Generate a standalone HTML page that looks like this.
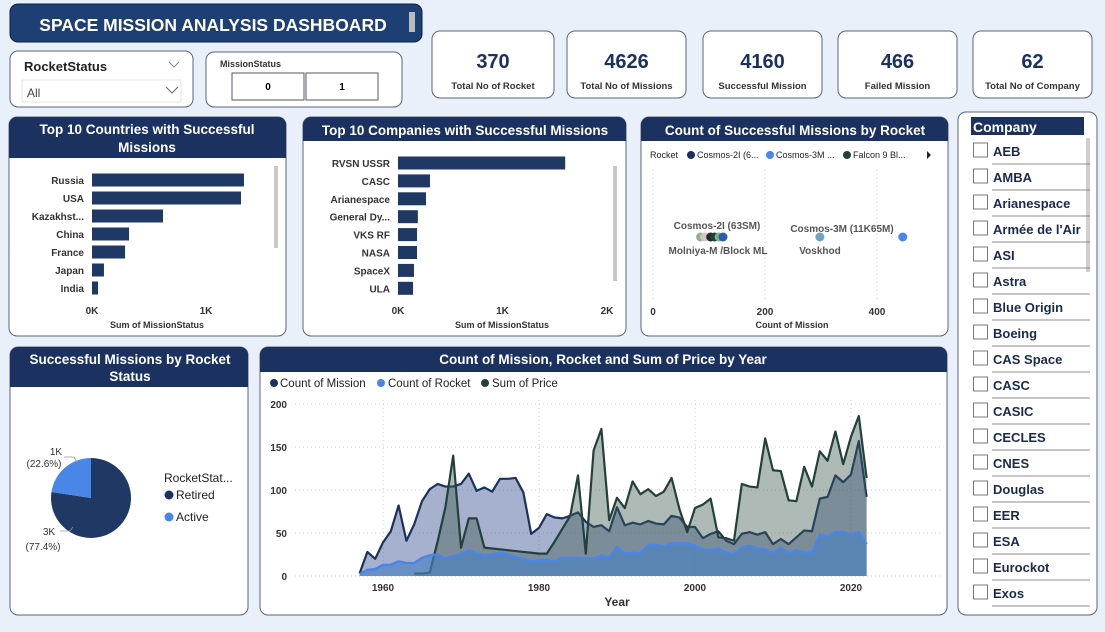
<!DOCTYPE html>
<html><head><meta charset="utf-8"><style>
body{margin:0;background:#e9f0f9;}
svg{display:block;font-family:"Liberation Sans",sans-serif;}
.card{fill:#fff;stroke:#5b6478;stroke-width:1;}
.hdr{fill:#1b3260;}
.ht{fill:#fff;font-weight:bold;font-size:13.5px;text-anchor:middle;}
.ax{fill:#333;font-size:10px;font-weight:bold;}
.cat{fill:#333;font-size:10px;font-weight:bold;text-anchor:end;}
.grid{stroke:#ccc;stroke-dasharray:1 3;}
</style></head><body>
<svg id="s" width="1105" height="632" viewBox="0 0 1105 632">
<rect width="1105" height="632" fill="#e9f0f9"/>
<g>
<rect x="10" y="4" width="412" height="38" rx="8" fill="#1e3f73" stroke="#0e1f3e"/>
<text x="213" y="31" fill="#fff" font-size="17.5" font-weight="bold" text-anchor="middle">SPACE MISSION ANALYSIS DASHBOARD</text>
<rect x="409" y="12" width="6" height="20" fill="#bbb"/>
</g>
<g>
<rect x="10" y="51" width="183" height="56" rx="8" class="card"/>
<text x="24" y="71" font-size="13" font-weight="bold" fill="#222">RocketStatus</text>
<path d="M169 62l5 5 5-5" fill="none" stroke="#888"/>
<rect x="22" y="80" width="159" height="22" fill="#fff" stroke="#e4e4e4"/>
<text x="27" y="97" font-size="12" fill="#444">All</text>
<path d="M166 87l6 6 6-6" fill="none" stroke="#666"/>
</g>
<g>
<rect x="206" y="52" width="196" height="55" rx="8" class="card"/>
<text x="220" y="67" font-size="9" font-weight="bold" fill="#333">MissionStatus</text>
<rect x="232" y="73" width="72" height="27" fill="#fff" stroke="#556"/>
<rect x="306" y="73" width="72" height="27" fill="#fff" stroke="#556"/>
<text x="268" y="90" font-size="10" font-weight="bold" text-anchor="middle">0</text>
<text x="342" y="90" font-size="10" font-weight="bold" text-anchor="middle">1</text>
</g>
<g id="kpis"></g>
<g>
<rect x="9" y="117" width="277" height="219" rx="8" class="card"/>
<path d="M9 158V125a8 8 0 0 1 8-8h261a8 8 0 0 1 8 8v33z" class="hdr"/>
<text x="147" y="134" class="ht">Top 10 Countries with Successful</text>
<text x="147" y="152" class="ht">Missions</text>
<rect x="274" y="166" width="4" height="82" fill="#c8c8c8"/>
<text x="157" y="328" font-size="9" font-weight="bold" fill="#333" text-anchor="middle">Sum of MissionStatus</text>
<g id="cbars"></g>
</g>
<g>
<rect x="303" y="117" width="323" height="219" rx="8" class="card"/>
<path d="M303 141V125a8 8 0 0 1 8-8h307a8 8 0 0 1 8 8v16z" class="hdr"/>
<text x="465" y="135" class="ht">Top 10 Companies with Successful Missions</text>
<rect x="613" y="166" width="4" height="115" fill="#c8c8c8"/>
<text x="502" y="328" font-size="9" font-weight="bold" fill="#333" text-anchor="middle">Sum of MissionStatus</text>
<g id="mbars"></g>
</g>
<g>
<rect x="641" y="117" width="307" height="219" rx="8" class="card"/>
<path d="M641 141V125a8 8 0 0 1 8-8h291a8 8 0 0 1 8 8v16z" class="hdr"/>
<text x="795" y="135" class="ht">Count of Successful Missions by Rocket</text>
<g font-size="9" fill="#222">
<text x="650" y="158">Rocket</text>
<circle cx="691" cy="155" r="4" fill="#1b3260"/><text x="697" y="158">Cosmos-2I (6...</text>
<circle cx="770" cy="155" r="4" fill="#4a86e8"/><text x="776" y="158">Cosmos-3M ...</text>
<circle cx="847" cy="155" r="4" fill="#24403a"/><text x="853" y="158">Falcon 9 Bl...</text>
<path d="M927 151l4 4-4 4z" fill="#222"/>
</g>
<text x="792" y="328" font-size="9" font-weight="bold" fill="#333" text-anchor="middle">Count of Mission</text>
<g id="scat"></g>
</g>
<g>
<rect x="10" y="347" width="238" height="268" rx="8" class="card"/>
<path d="M10 387V355a8 8 0 0 1 8-8h222a8 8 0 0 1 8 8v32z" class="hdr"/>
<text x="130" y="364" class="ht">Successful Missions by Rocket</text>
<text x="130" y="381" class="ht">Status</text>
<g id="pie"></g>
<text x="164" y="482" font-size="12" fill="#222">RocketStat...</text>
<circle cx="169" cy="495" r="4.5" fill="#1b3260"/><text x="176" y="499" font-size="12" fill="#222">Retired</text>
<circle cx="169" cy="517" r="4.5" fill="#4a86e8"/><text x="176" y="521" font-size="12" fill="#222">Active</text>
</g>
<g>
<rect x="260" y="347" width="687" height="268" rx="8" class="card"/>
<path d="M260 372V355a8 8 0 0 1 8-8h671a8 8 0 0 1 8 8v17z" class="hdr"/>
<text x="603" y="364" class="ht">Count of Mission, Rocket and Sum of Price by Year</text>
<g font-size="11.5" fill="#222">
<circle cx="274" cy="383" r="4" fill="#1b3260"/><text x="280" y="387">Count of Mission</text>
<circle cx="381" cy="383" r="4" fill="#4a86e8"/><text x="388" y="387">Count of Rocket</text>
<circle cx="485" cy="383" r="4" fill="#24403a"/><text x="492" y="387">Sum of Price</text>
</g>
<text x="617" y="606" font-size="12" font-weight="bold" fill="#333" text-anchor="middle">Year</text>
<g id="area"></g>
</g>
<g>
<rect x="958" y="112" width="139" height="503" rx="8" class="card"/>
<rect x="971" y="117" width="113" height="18" fill="#1b3260"/>
<text x="973" y="132" fill="#fff" font-size="14" font-weight="bold">Company</text>
<rect x="1086" y="138" width="4" height="134" fill="#cfcfcf"/>
<g id="comp"></g>
</g>
</svg>
<script>
const NS="http://www.w3.org/2000/svg";
function mk(p,t,a,txt){const e=document.createElementNS(NS,t);for(const k in a)e.setAttribute(k,a[k]);if(txt!=null)e.textContent=txt;p.appendChild(e);return e;}
const kpiValues=["370","4626","4160","466","62"];
const kpiLabels=["Total No of Rocket","Total No of Missions","Successful Mission","Failed Mission","Total No of Company"];
const kpiX=[432,567,703,838,973],kpiW=[122,119,119,119,119];
const kg=document.getElementById('kpis');
kpiValues.forEach((v,i)=>{const g=mk(kg,'g',{});


mk(g,'rect',{x:kpiX[i],y:31,width:kpiW[i],height:67,rx:8,class:'card'});
mk(g,'text',{x:kpiX[i]+kpiW[i]/2,y:68,'font-size':20,'font-weight':'bold',fill:'#1b3260','text-anchor':'middle'},v);
mk(g,'text',{x:kpiX[i]+kpiW[i]/2,y:89,'font-size':9.5,'font-weight':'bold',fill:'#333','text-anchor':'middle'},kpiLabels[i]);});
const countries=["Russia","USA","Kazakhst...","China","France","Japan","India"];
const countryVals=[1333,1307,623,325,290,105,53];
const countryTicks=[0,1000];const countryTickLabels=["0K","1K"];
function hbar(gid,cats,vals,x0,scale,y0,step,ticks,tl,labX,tickY,name){
 const g=document.getElementById(gid);const sx=v=>x0+v*scale;
 cats.forEach((c,i)=>{const y=y0+i*step;
  mk(g,'text',{x:labX,y:y+4,class:'cat'},c);
  const r=mk(g,'rect',{x:x0,y:y-6.5,width:sx(vals[i])-x0,height:13,fill:'#1f3864'});
  
  });
 ticks.forEach((t,i)=>mk(g,'text',{x:sx(t),y:tickY,class:'ax','font-size':9,'text-anchor':'middle'},tl[i]));
}
hbar('cbars',countries,countryVals,92,0.114,180,18,countryTicks,countryTickLabels,84,314,'country-bar');
const companies=["RVSN USSR","CASC","Arianespace","General Dy...","VKS RF","NASA","SpaceX","ULA"];
const companyVals=[1600,306,268,190,182,182,153,144];
const compTicks=[0,1000,2000];const compTickLabels=["0K","1K","2K"];
hbar('mbars',companies,companyVals,398,0.1045,163,17.9,compTicks,compTickLabels,390,314,'company-bar');
const rockets=["Molniya-M /Block ML","m2","m3","m4","m5","Cosmos-2I (63SM)","Voskhod","Cosmos-3M (11K65M)"];
const rocketCounts=[85,92,103,110,118,125,298,446];
const rocketColors=["#8fae98","#d7c3c3","#1f2d2a","#24403a","#7fae8e","#2b5cb0","#6fa3c0","#4a86e8"];
const sg=document.getElementById('scat');const sxs=v=>653+v*0.56;
[0,200,400].forEach(t=>{mk(sg,'line',{x1:sxs(t),x2:sxs(t),y1:170,y2:302,class:'grid'});
 mk(sg,'text',{x:sxs(t),y:315,class:'ax','font-size':9.5,'text-anchor':'middle'},t);});
rockets.forEach((r,i)=>{const c=mk(sg,'circle',{cx:sxs(rocketCounts[i]),cy:237,r:4.5,fill:rocketColors[i]});
 
 });
mk(sg,'text',{x:717,y:229,'font-size':10,'font-weight':'bold',fill:'#555','text-anchor':'middle'},"Cosmos-2I (63SM)");
mk(sg,'text',{x:718,y:254,'font-size':10,'font-weight':'bold',fill:'#555','text-anchor':'middle'},"Molniya-M /Block ML");
mk(sg,'text',{x:842,y:232,'font-size':10,'font-weight':'bold',fill:'#555','text-anchor':'middle'},"Cosmos-3M (11K65M)");
mk(sg,'text',{x:820,y:254,'font-size':10,'font-weight':'bold',fill:'#555','text-anchor':'middle'},"Voskhod");
const pieCats=["Retired","Active"];const pieVals=[77.4,22.6];const pieColors=["#1f3864","#4a86e8"];
const pg=document.getElementById('pie');const cx=91,cy=498,R=40;let tot=pieVals.reduce((a,b)=>a+b);
let a0=0;
pieVals.forEach((v,i)=>{const a1=a0+v/tot*2*Math.PI;
 const p=(a)=>[cx+R*Math.sin(a),cy-R*Math.cos(a)];const [x0,y0]=p(a0),[x1,y1]=p(a1);
 const s=mk(pg,'path',{d:`M${cx},${cy}L${x0},${y0}A${R},${R} 0 ${a1-a0>Math.PI?1:0} 1 ${x1},${y1}Z`,fill:pieColors[i]});
 
 a0=a1;});
mk(pg,'text',{x:56,y:455,'font-size':10,fill:'#333','text-anchor':'middle'},"1K");
mk(pg,'text',{x:44,y:467,'font-size':10,fill:'#333','text-anchor':'middle'},"(22.6%)");
mk(pg,'text',{x:49,y:535,'font-size':10,fill:'#333','text-anchor':'middle'},"3K");
mk(pg,'text',{x:43,y:550,'font-size':10,fill:'#333','text-anchor':'middle'},"(77.4%)");
mk(pg,'path',{d:'M64 457h10l3 5M60 531h10l3-4',fill:'none',stroke:'#999','stroke-width':0.8});
const years=[];for(let y=1957;y<=2022;y++)years.push(y);
const missions=[3,28,20,39,52,82,41,60,87,101,107,104,104,107,119,99,103,98,113,113,114,97,49,56,72,68,67,70,74,63,57,59,52,80,59,62,60,64,61,60,70,68,57,57,44,49,52,41,37,49,51,48,51,37,43,37,45,53,52,90,92,117,109,118,157,92];
const rocketsCnt=[2,7,8,13,13,17,15,15,21,24,25,20,23,25,30,26,24,25,27,25,22,20,17,18,19,17,21,21,21,20,20,24,21,34,26,27,26,36,36,34,38,38,38,35,31,30,32,27,25,33,35,32,31,26,33,26,30,27,27,48,46,51,51,48,51,37];
const price=[null,null,null,null,null,null,null,3,3,4,40,80,140,33,67,67,33,32,31,30,29,28,27,26,26,40,55,70,117,26,146,171,65,91,79,110,95,101,93,98,114,78,51,79,83,90,45,44,41,107,104,103,160,123,122,88,87,127,104,145,134,168,130,162,186,114];
const yTicks=[0,50,100,150,200];const xTicks=[1960,1980,2000,2020];
const ag=document.getElementById('area');
const X=y=>383+(y-1960)*7.8, Y=v=>576-v*0.86;
yTicks.forEach(t=>{mk(ag,'line',{x1:295,x2:940,y1:Y(t),y2:Y(t),class:'grid'});
 mk(ag,'text',{x:287,y:Y(t)+4,class:'ax','text-anchor':'end'},t);});
xTicks.forEach(t=>{mk(ag,'line',{x1:X(t),x2:X(t),y1:400,y2:576,class:'grid'});
 mk(ag,'text',{x:X(t),y:591,class:'ax','text-anchor':'middle'},t);});
function series(vals,fill,fo,stroke,sw,name){
 const pts=[];vals.forEach((v,i)=>{if(v!=null)pts.push([X(years[i]),Y(v)]);});
 const line=pts.map(p=>p.join(',')).join(' ');
 const a=mk(ag,'polygon',{points:`${pts[0][0]},${Y(0)} ${line} ${pts[pts.length-1][0]},${Y(0)}`,fill:fill,'fill-opacity':fo});
 
 
 const l=mk(ag,'polyline',{points:line,fill:'none',stroke:stroke,'stroke-width':sw,'stroke-linejoin':'round'});
 
 
}
series(missions,'#3a5590',0.45,'#1b3260',2.2,'count-of-mission');
series(price,'#3d5a52',0.42,'#24403a',2.2,'sum-of-price');
series(rocketsCnt,'#4a7fc0',0.65,'#4a86e8',2.5,'count-of-rocket');
const companyList=["AEB","AMBA","Arianespace","Armée de l'Air","ASI","Astra","Blue Origin","Boeing","CAS Space","CASC","CASIC","CECLES","CNES","Douglas","EER","ESA","Eurockot","Exos"];
const cg=document.getElementById('comp');
companyList.forEach((c,i)=>{const y=151+i*26;const g=mk(cg,'g',{});
 
 
 mk(g,'rect',{x:973.5,y:y-8,width:14,height:14,fill:'#fff',stroke:'#777'});
 mk(g,'text',{x:993,y:y+5,'font-size':13,'font-weight':'bold',fill:'#1b2a4a'},c);
 mk(g,'line',{x1:992,x2:1090,y1:y+13,y2:y+13,stroke:'#666','stroke-width':0.8});});
</script>
</body></html>
